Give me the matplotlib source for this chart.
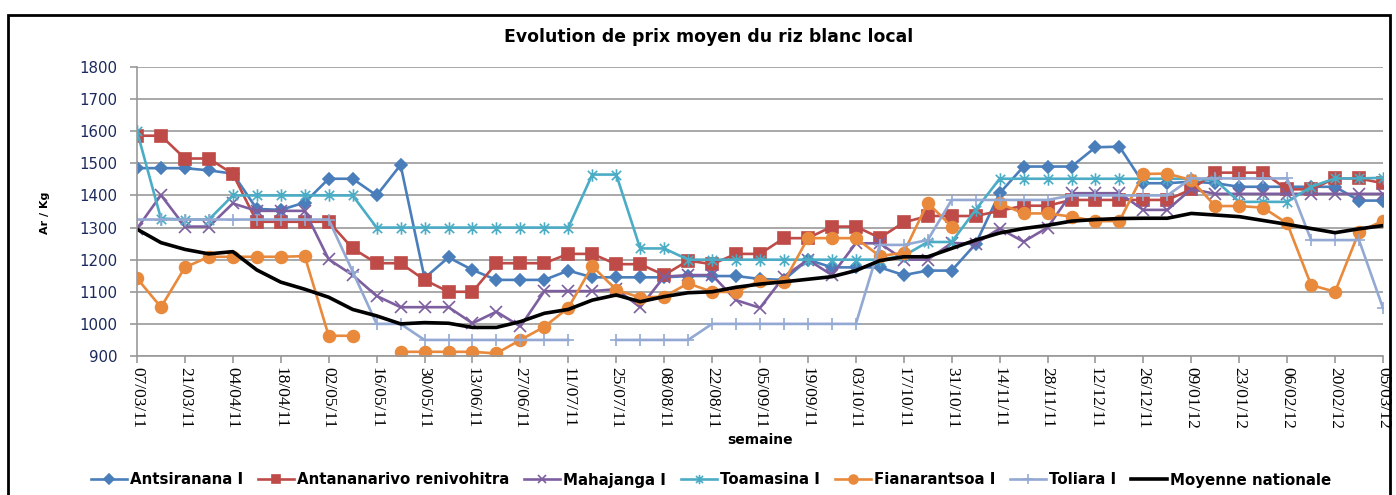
import numpy as np
import matplotlib.pyplot as plt
from matplotlib.path import Path
from matplotlib.patches import Rectangle

weeks = ['07/03/11', '14/03/11', '21/03/11', '28/03/11', '04/04/11', '11/04/11', '18/04/11',
         '25/04/11', '02/05/11', '09/05/11', '16/05/11', '23/05/11', '30/05/11', '06/06/11',
         '13/06/11', '20/06/11', '27/06/11', '04/07/11', '11/07/11', '18/07/11', '25/07/11',
         '01/08/11', '08/08/11', '15/08/11', '22/08/11', '29/08/11', '05/09/11', '12/09/11',
         '19/09/11', '26/09/11', '03/10/11', '10/10/11', '17/10/11', '24/10/11', '31/10/11',
         '07/11/11', '14/11/11', '21/11/11', '28/11/11', '05/12/11', '12/12/11', '19/12/11',
         '26/12/11', '02/01/12', '09/01/12', '16/01/12', '23/01/12', '30/01/12', '06/02/12',
         '13/02/12', '20/02/12', '27/02/12', '05/03/12']

nan = np.nan
antsiranana = [1485, 1485, 1485, 1478, 1468, 1358, 1355, 1378, 1452, 1452, 1400, 1495, 1143,
               1207, 1168, 1137, 1137, 1137, 1166, 1145, 1145, 1145, 1145, 1149, 1149, 1149,
               1140, 1137, 1200, 1176, 1176, 1176, 1152, 1166, 1166, 1249, 1407, 1490, 1490,
               1490, 1550, 1552, 1438, 1438, 1443, 1438, 1427, 1427, 1427, 1427, 1427, 1384, 1384]
antananarivo = [1586, 1586, 1515, 1515, 1467, 1318, 1318, 1318, 1318, 1235, 1189, 1189, 1137,
                1100, 1100, 1189, 1189, 1189, 1218, 1218, 1186, 1186, 1152, 1197, 1186, 1218,
                1218, 1267, 1267, 1303, 1303, 1268, 1316, 1336, 1336, 1336, 1352, 1368, 1368,
                1386, 1386, 1386, 1386, 1386, 1419, 1471, 1471, 1471, 1419, 1419, 1453, 1453, 1438]
mahajanga = [1297, 1401, 1303, 1303, 1375, 1352, 1352, 1352, 1201, 1152, 1087, 1052, 1052,
             1052, 1002, 1038, 992, 1102, 1102, 1102, 1108, 1052, 1147, 1152, 1152, 1074,
             1050, 1147, 1200, 1152, 1251, 1251, 1200, 1200, 1252, 1250, 1297, 1256, 1300,
             1407, 1407, 1407, 1355, 1355, 1420, 1405, 1405, 1405, 1405, 1405, 1405, 1405, 1405]
toamasina = [1600, 1328, 1325, 1325, 1400, 1400, 1400, 1400, 1400, 1400, 1300, 1300, 1300,
             1300, 1300, 1300, 1300, 1300, 1300, 1465, 1465, 1235, 1235, 1200, 1200, 1200,
             1200, 1200, 1200, 1200, 1200, 1200, 1212, 1255, 1255, 1355, 1452, 1452, 1452,
             1452, 1452, 1452, 1452, 1452, 1452, 1448, 1380, 1380, 1380, 1427, 1453, 1453, 1455]
fianarantsoa = [1142, 1052, 1176, 1209, 1209, 1209, 1209, 1211, 963, 963, nan, 913, 913,
                913, 913, 908, 950, 991, 1050, 1180, 1106, 1082, 1085, 1126, 1100, 1099,
                1135, 1131, 1267, 1267, 1267, 1211, 1222, 1377, 1303, nan, 1375, 1344, 1344,
                1334, 1320, 1320, 1467, 1468, 1448, 1367, 1367, 1362, 1313, 1121, 1100, 1287, 1321]
toliara = [1325, 1325, 1325, 1325, 1325, 1325, 1325, 1325, 1325, 1163, 1000, 1000, 950,
           950, 950, 950, 950, 950, 950, nan, 950, 950, 950, 950, 1000, 1000,
           1000, 1000, 1000, 1000, 1000, 1246, 1246, 1261, 1386, 1386, 1386, 1386, 1386,
           1400, 1400, 1400, 1400, 1400, 1453, 1453, 1453, 1453, 1453, 1261, 1261, 1261, 1049]
moyenne = [1295, 1253, 1232, 1218, 1225, 1168, 1130, 1108, 1083, 1045, 1025, 1000, 1004,
           1002, 989, 989, 1007, 1033, 1045, 1074, 1090, 1069, 1085, 1097, 1100, 1114,
           1124, 1131, 1139, 1147, 1166, 1197, 1209, 1209, 1235, 1261, 1283, 1297, 1307,
           1320, 1325, 1328, 1329, 1329, 1344, 1339, 1334, 1322, 1310, 1297, 1284, 1296, 1306]

# excel style asterisk: vertical bar + an X
asterisk = Path([(0, -1), (0, 1), (-0.75, -0.75), (0.75, 0.75), (-0.75, 0.75), (0.75, -0.75)],
                [Path.MOVETO, Path.LINETO, Path.MOVETO, Path.LINETO, Path.MOVETO, Path.LINETO])

series = [
    ('Antsiranana I', antsiranana, '#4A7EBB', 'D', 6.5, 1.9),
    ('Antananarivo renivohitra', antananarivo, '#BE4B48', 's', 8.5, 1.9),
    ('Mahajanga I', mahajanga, '#7D5FA0', 'x', 8, 1.9),
    ('Toamasina I', toamasina, '#4BACC6', asterisk, 9, 1.9),
    ('Fianarantsoa I', fianarantsoa, '#E8893B', 'o', 8.5, 1.9),
    ('Toliara I', toliara, '#93A9D3', '+', 9, 1.9),
    ('Moyenne nationale', moyenne, 'black', None, 0, 2.6),
]

fig = plt.figure(figsize=(13.96, 4.95), dpi=100)
ax = fig.add_axes([137/1396, 1-356/495, (1383-137)/1396, (356-67)/495])

x = np.arange(len(weeks))
for name, vals, col, mk, ms, lw in series:
    ax.plot(x, vals, color=col, lw=lw, marker=mk, ms=ms, mec=col, mfc=col,
            mew=1.2, label=name)

ax.set_xlim(0, len(weeks) - 1)
ax.set_ylim(900, 1800)
ax.set_yticks(range(900, 1801, 100))
ax.set_xticks(x[::2])
ax.set_xticklabels(weeks[::2], rotation=270, family='Liberation Serif', fontsize=12.5)
for t in ax.get_yticklabels():
    t.set_fontsize(10.8)
    t.set_color('#1c2a5c')

ax.grid(axis='y', color='#999999', lw=1.2)
ax.set_axisbelow(True)
for s in ['top', 'right']:
    ax.spines[s].set_visible(False)
for s in ['left', 'bottom']:
    ax.spines[s].set_color('#999999')
    ax.spines[s].set_linewidth(1.2)
ax.tick_params(axis='both', length=5, color='#999999', width=1.2)
ax.tick_params(axis='y', pad=9)
ax.tick_params(axis='x', pad=3)

fig.text(760/1396, 1-440/495, 'semaine', ha='center', va='center',
         fontweight='bold', fontsize=10)
fig.text(45/1396, 1-213/495, 'Ar / Kg', ha='center', va='center', rotation=90,
         fontweight='bold', fontsize=8)
fig.text(709/1396, 1-37/495, 'Evolution de prix moyen du riz blanc local', ha='center',
         va='center', fontweight='bold', fontsize=12.4)

fig.legend(loc='center', bbox_to_anchor=(711/1396, 1-480/495), ncol=7, frameon=False,
           prop={'weight': 'bold', 'size': 10.8},
           handlelength=2.4, columnspacing=1.0, handletextpad=0.2, markerscale=0.75)

fig.patches.append(Rectangle((8/1396, -0.05), (1390-8)/1396, 1-15/495+0.05,
                             transform=fig.transFigure, fill=False, lw=2, ec='black'))

fig.savefig('out.png', dpi=100)
